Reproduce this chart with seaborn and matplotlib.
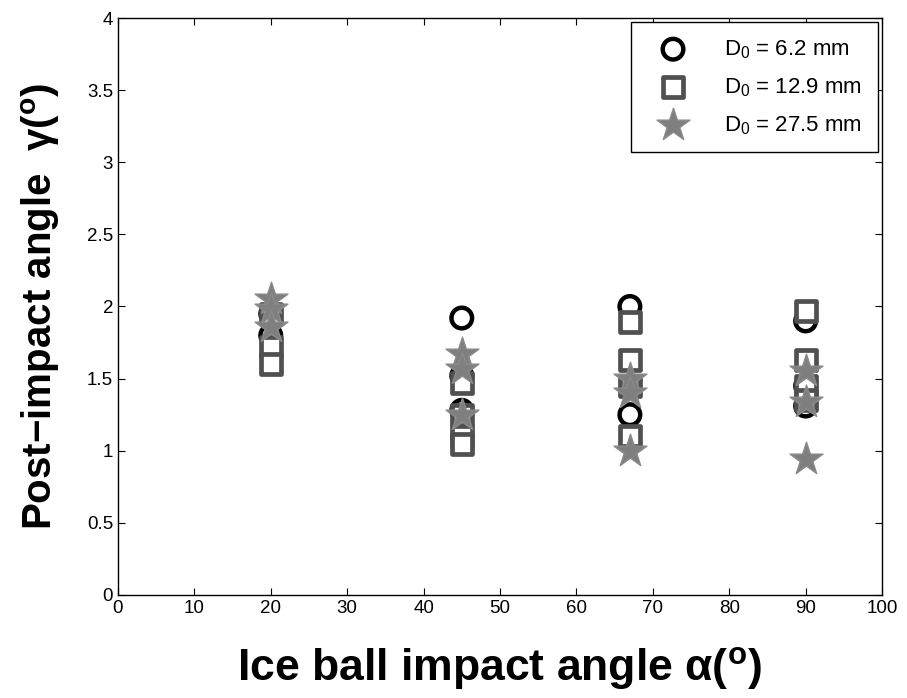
import pandas as pd
import seaborn as sns
import matplotlib.pyplot as plt

# impact angle (deg) and post-impact angle (deg), per ice ball size
angle_small = [20, 20, 45, 45, 45, 67, 67, 90, 90, 90]
gamma_small = [1.95, 1.80, 1.92, 1.52, 1.28, 2.00, 1.25, 1.90, 1.45, 1.31]

angle_mid = [20, 20, 20, 45, 45, 45, 45, 67, 67, 67, 67, 90, 90, 90, 90]
gamma_mid = [1.95, 1.72, 1.60, 1.47, 1.25, 1.10, 1.05, 1.89, 1.63, 1.45, 1.10,
             1.97, 1.63, 1.45, 1.35]

angle_big = [20, 20, 20, 45, 45, 45, 67, 67, 67, 90, 90, 90]
gamma_big = [2.05, 1.98, 1.86, 1.67, 1.57, 1.25, 1.50, 1.40, 1.00, 1.55, 1.34, 0.94]

labels = ['D$_0$ = 6.2 mm', 'D$_0$ = 12.9 mm', 'D$_0$ = 27.5 mm']

sns.set_style('ticks')
plt.rcParams['font.family'] = ['Liberation Sans', 'DejaVu Sans']
plt.rcParams['mathtext.fontset'] = 'custom'
plt.rcParams['mathtext.rm'] = 'Liberation Sans'
plt.rcParams['mathtext.bf'] = 'Liberation Sans:bold'
plt.rcParams['text.color'] = 'black'
plt.rcParams['axes.labelcolor'] = 'black'
plt.rcParams['xtick.color'] = 'black'
plt.rcParams['ytick.color'] = 'black'

fig = plt.figure(figsize=(9.07, 6.98), dpi=100)
ax = fig.add_axes([0.130, 0.1476, 0.8425, 0.8266])

sns.scatterplot(x=angle_small, y=gamma_small, ax=ax, marker='o', s=220,
                facecolor='none', edgecolor='black', linewidth=3.2, label=labels[0])
sns.scatterplot(x=angle_mid, y=gamma_mid, ax=ax, marker='s', s=190,
                facecolor='white', edgecolor='#505050', linewidth=3.4, label=labels[1])
sns.scatterplot(x=angle_big, y=gamma_big, ax=ax, marker='*', s=620,
                facecolor='#7f7f7f', edgecolor='#8a8a8a', linewidth=1, label=labels[2])

ax.set_xlim(0, 100)
ax.set_ylim(0, 4)
ax.set_xticks(range(0, 101, 10))
ax.set_yticks([0, 0.5, 1, 1.5, 2, 2.5, 3, 3.5, 4])
ax.set_yticklabels(['0', '0.5', '1', '1.5', '2', '2.5', '3', '3.5', '4'])
ax.tick_params(direction='in', top=True, right=True, labelsize=13.5, length=5)
for sp in ax.spines.values():
    sp.set_visible(True)
    sp.set_linewidth(1)
    sp.set_color('black')

ax.set_xlabel('Ice ball impact angle α($^{\\mathbf{o}}$)', fontsize=32,
              fontweight='bold', labelpad=20)
ax.set_ylabel('Post\u2212impact angle  γ($^{\\mathbf{o}}$)', fontsize=29,
              fontweight='bold', labelpad=18)

leg = ax.legend(loc='upper right', fontsize=16, frameon=True, fancybox=False,
                edgecolor='black', framealpha=1, borderpad=0.7, labelspacing=0.7,
                handletextpad=1.1, borderaxespad=0.2, handlelength=2.4)
leg.get_frame().set_linewidth(1)

plt.savefig('out.png', dpi=100)
